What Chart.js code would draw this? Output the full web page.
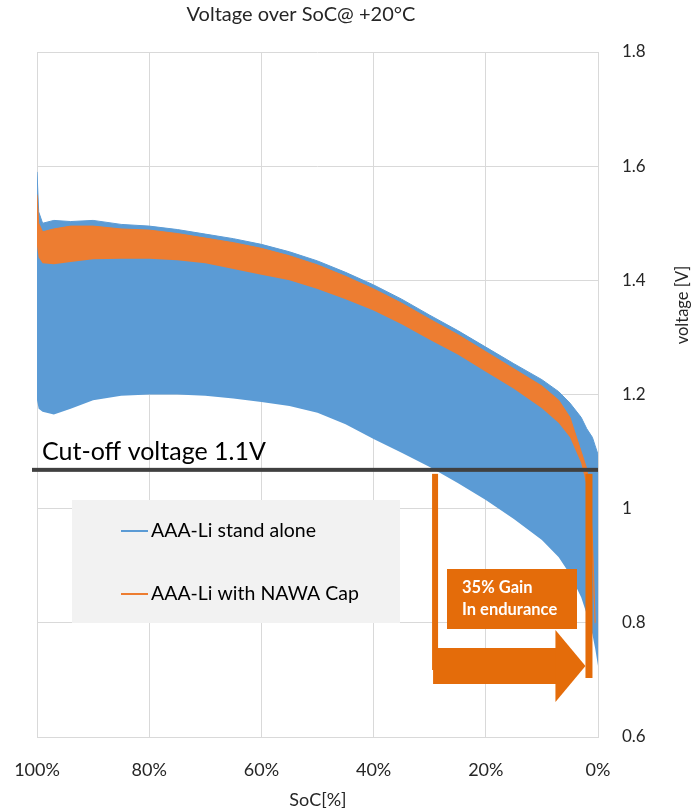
<!DOCTYPE html>
<html lang="en">
<head>
<meta charset="UTF-8">
<title>Voltage over SoC@ +20°C</title>
<script src="https://cdn.jsdelivr.net/npm/chart.js"></script>
<style>
  html, body { margin: 0; padding: 0; background: #fff; }
  #wrap { width: 694px; height: 810px; }
</style>
</head>
<body>
<div id="wrap"><canvas id="socChart"></canvas></div>
<script>
// envelopes (SoC in %, voltage in V)
const standAloneSoc = [100, 99.7, 99, 97, 94, 90, 85, 80, 75, 70, 65, 60, 55, 50, 45, 40, 35, 30, 25, 20, 15, 10, 7, 5, 3, 2, 1, 0.5, 0];
const standAloneMax = [1.59, 1.52, 1.50, 1.505, 1.503, 1.505, 1.498, 1.495, 1.489, 1.481, 1.473, 1.463, 1.45, 1.434, 1.414, 1.392, 1.367, 1.339, 1.312, 1.283, 1.254, 1.226, 1.205, 1.185, 1.16, 1.14, 1.125, 1.11, 1.095];
const standAloneMin = [1.19, 1.175, 1.17, 1.165, 1.175, 1.19, 1.198, 1.20, 1.20, 1.198, 1.193, 1.187, 1.18, 1.168, 1.148, 1.122, 1.098, 1.073, 1.045, 1.015, 0.982, 0.945, 0.915, 0.885, 0.845, 0.815, 0.78, 0.755, 0.725];

const nawaSoc = [100, 99.7, 99, 97, 94, 90, 85, 80, 75, 70, 65, 60, 55, 50, 45, 40, 35, 30, 25, 20, 15, 10, 7, 5, 3, 2, 1.5, 1, 0.5];
const nawaMax = [1.55, 1.50, 1.485, 1.49, 1.495, 1.495, 1.49, 1.488, 1.482, 1.474, 1.466, 1.456, 1.443, 1.427, 1.407, 1.385, 1.36, 1.332, 1.305, 1.275, 1.245, 1.215, 1.19, 1.16, 1.10, 1.07, 1.03, 0.95, 0.80];
const nawaMin = [1.46, 1.44, 1.43, 1.428, 1.432, 1.437, 1.438, 1.438, 1.435, 1.43, 1.42, 1.41, 1.40, 1.385, 1.367, 1.347, 1.323, 1.296, 1.27, 1.24, 1.21, 1.176, 1.15, 1.125, 1.08, 1.04, 0.99, 0.90, 0.78];

const seriesNames = ['AAA-Li stand alone', 'AAA-Li with NAWA Cap'];
const socTicks = [100, 80, 60, 40, 20, 0];
const voltTicks = [0.6, 0.8, 1.0, 1.2, 1.4, 1.6, 1.8];
const cutoffVolt = 1.068;       // where the cut-off line sits
const gainSoc = [29.4, 1.7];    // cut-off crossings: stand alone / with cap

const BLUE = '#5b9bd5';
const ORANGE = '#ed7d31';
const ARROW = '#e46c0a';
const FONT = 'Lato, "Open Sans", sans-serif';

const toPoints = (xs, ys) => xs.map((x, i) => ({ x: x, y: ys[i] }));

// order: higher number is drawn first, so the orange band lands on top
const band = (label, data, color, fill, order) => ({
  label: label,
  data: data,
  borderColor: color,
  backgroundColor: color,
  borderWidth: fill ? 1 : 0,
  pointRadius: 0,
  tension: 0,
  fill: fill ? '-1' : false,
  order: order
});

// everything that is not a series: cut-off line, legend box, gain arrow, titles
const extras = {
  id: 'extras',
  afterDatasetsDraw(chart) {
    const { ctx, chartArea: a, scales: { x, y } } = chart;
    ctx.save();

    // cut-off line + label
    const yc = y.getPixelForValue(cutoffVolt);
    ctx.fillStyle = '#404040';
    ctx.fillRect(a.left - 5, yc - 2, a.right - a.left + 5, 4);
    ctx.fillStyle = '#000';
    ctx.font = '25px ' + FONT;
    ctx.textBaseline = 'alphabetic';
    ctx.textAlign = 'left';
    ctx.fillText('Cut-off voltage 1.1V', a.left + 5, yc - 10);

    // legend box
    ctx.fillStyle = '#f2f2f2';
    ctx.fillRect(72, 500, 328, 123);
    ctx.font = '19.5px ' + FONT;
    ctx.textBaseline = 'middle';
    [[BLUE, 531], [ORANGE, 594]].forEach(([c, ly], i) => {
      ctx.strokeStyle = c;
      ctx.lineWidth = 2;
      ctx.beginPath();
      ctx.moveTo(121, ly);
      ctx.lineTo(148, ly);
      ctx.stroke();
      ctx.fillStyle = '#000';
      ctx.fillText(seriesNames[i], 151, ly);
    });

    // gain arrow
    const xl = x.getPixelForValue(gainSoc[0]);
    const xr = x.getPixelForValue(gainSoc[1]);
    const top = yc + 4;
    ctx.fillStyle = ARROW;
    ctx.fillRect(xl - 1, top, 6, 670 - top);
    ctx.fillRect(xl, 648, xr - 32 - xl, 36);
    ctx.beginPath();
    ctx.moveTo(xr - 33, 630);
    ctx.lineTo(xr - 33, 702);
    ctx.lineTo(xr - 3, 666);
    ctx.closePath();
    ctx.fill();
    ctx.fillRect(xr - 3, top, 7, 678 - top);

    // gain text box
    ctx.fillRect(447, 569, 130, 60);
    ctx.fillStyle = '#fff';
    ctx.font = 'bold 16.5px ' + FONT;
    ctx.fillText('35% Gain', 462, 588);
    ctx.fillText('In endurance', 462, 610);

    // titles
    ctx.fillStyle = '#262626';
    ctx.textAlign = 'center';
    ctx.font = '20px ' + FONT;
    ctx.fillText('Voltage over SoC@ +20°C', 301, 15);
    ctx.font = '18px ' + FONT;
    ctx.fillText('SoC[%]', 318, 800);
    ctx.translate(683, 305);
    ctx.rotate(-Math.PI / 2);
    ctx.font = '16.5px ' + FONT;
    ctx.fillText('voltage [V]', 0, 0);
    ctx.restore();
  }
};

new Chart(document.getElementById('socChart'), {
  type: 'line',
  data: {
    datasets: [
      band(seriesNames[0] + ' min', toPoints(standAloneSoc, standAloneMin), BLUE, false, 2),
      band(seriesNames[0], toPoints(standAloneSoc, standAloneMax), BLUE, true, 2),
      band(seriesNames[1] + ' min', toPoints(nawaSoc, nawaMin), ORANGE, false, 1),
      band(seriesNames[1], toPoints(nawaSoc, nawaMax), ORANGE, true, 1)
    ]
  },
  options: {
    responsive: true,
    maintainAspectRatio: false,
    animation: false,
    layout: { padding: { left: 37, top: 52, right: 0, bottom: 0 } },
    plugins: {
      legend: { display: false },
      tooltip: { enabled: false }
    },
    scales: {
      x: {
        type: 'linear',
        reverse: true,
        min: 0,
        max: 100,
        afterFit: s => { s.height = 73; s.paddingLeft = 0; s.paddingRight = 0; },
        afterBuildTicks: s => { s.ticks = socTicks.map(v => ({ value: v })); },
        grid: { color: '#d9d9d9', drawTicks: false },
        border: { color: '#d9d9d9' },
        ticks: {
          padding: 22,
          color: '#262626',
          font: { family: FONT, size: 18 },
          callback: v => v + '%'
        }
      },
      y: {
        position: 'right',
        min: 0.6,
        max: 1.8,
        afterFit: s => { s.width = 96; s.paddingTop = 0; s.paddingBottom = 0; },
        afterBuildTicks: s => { s.ticks = voltTicks.map(v => ({ value: v })); },
        grid: { color: '#d9d9d9', drawTicks: false },
        border: { color: '#d9d9d9' },
        ticks: {
          padding: 24,
          color: '#262626',
          font: { family: FONT, size: 17 },
          callback: v => (v === 1 ? '1' : v.toFixed(1))
        }
      }
    }
  },
  plugins: [extras]
});
</script>
</body>
</html>
